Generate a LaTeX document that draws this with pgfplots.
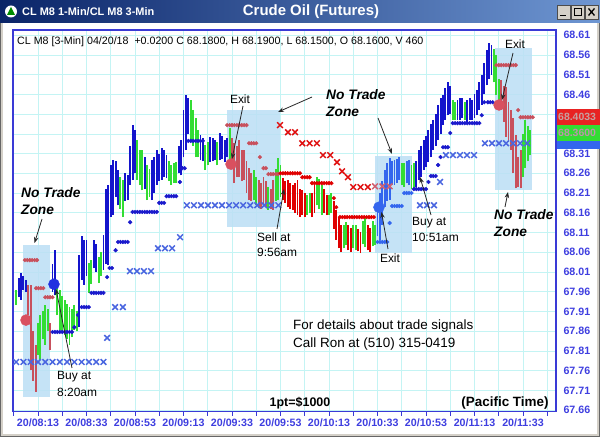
\documentclass[border=0pt]{standalone}
\usepackage{pgfplots}
\pgfplotsset{compat=1.18}
\usepackage{pgfplotstable}
\usepackage{fontspec}
\setmainfont{Liberation Sans}
\usetikzlibrary{arrows.meta}
\definecolor{barblue}{HTML}{1414CC}
\definecolor{lightbarblue}{HTML}{3366EE}
\definecolor{bargreen}{HTML}{33DD33}
\definecolor{barred}{HTML}{E00000}
\definecolor{barpink}{HTML}{C8505C}
\definecolor{dotblue}{HTML}{1A1ACC}
\definecolor{xblue}{HTML}{4A66E0}
\definecolor{xred}{HTML}{E01010}
\definecolor{xpink}{HTML}{D06070}
\definecolor{zonefill}{HTML}{BCDFF5}
\definecolor{gridcyan}{HTML}{C4F4F4}
\definecolor{axisblue}{HTML}{3A3AD6}
\definecolor{labelblue}{HTML}{3E3EE0}
\definecolor{titlenavy}{HTML}{0A2468}
\definecolor{titlelight}{HTML}{6E96D2}
\definecolor{framegray}{HTML}{D4D0C8}
\definecolor{bigpink}{HTML}{D9505F}
\definecolor{bigblue}{HTML}{2030E0}
\definecolor{tagred}{HTML}{E82222}
\definecolor{taggreen}{HTML}{33DD33}
\definecolor{tagblue}{HTML}{3366EE}
\newcommand\an{\fontsize{12}{14}\selectfont}
\newcommand\nt{\fontsize{13.8}{16}\selectfont\bfseries\itshape}

\pgfplotstableread{
m lo hi
5 67.946 67.995
6 67.939 68.007
7 67.965 68.000
8 67.959 67.989
19 67.960 68.030
20 67.951 68.065
30 67.870 68.053
31 67.990 68.100
32 67.977 68.091
33 68.000 68.090
36 68.020 68.091
37 68.010 68.080
40 68.015 68.103
41 68.030 68.220
42 68.027 68.230
43 68.150 68.280
44 68.154 68.293
45 68.200 68.290
46 68.179 68.268
49 68.190 68.260
50 68.192 68.255
51 68.230 68.330
52 68.243 68.382
53 68.260 68.370
57 68.220 68.300
60 68.192 68.293
61 68.210 68.300
62 68.230 68.319
63 68.240 68.310
64 68.243 68.324
65 68.250 68.320
66 68.248 68.306
71 68.260 68.330
72 68.255 68.344
73 68.300 68.420
74 68.319 68.458
75 68.360 68.450
80 68.293 68.357
81 68.290 68.350
84 68.288 68.352
85 68.290 68.350
86 68.293 68.344
88 68.293 68.362
89 68.295 68.355
90 68.288 68.344
91 68.300 68.350
169 68.225 68.290
170 68.243 68.319
171 68.250 68.330
172 68.268 68.344
173 68.275 68.355
174 68.288 68.369
175 68.300 68.385
176 68.319 68.395
177 68.330 68.410
178 68.344 68.433
179 68.360 68.450
180 68.382 68.458
181 68.395 68.475
182 68.407 68.491
183 68.410 68.480
186 68.395 68.445
187 68.395 68.450
188 68.400 68.450
190 68.390 68.445
191 68.395 68.450
192 68.395 68.445
193 68.400 68.460
194 68.407 68.471
195 68.420 68.490
196 68.433 68.509
197 68.460 68.540
198 68.483 68.572
199 68.500 68.590
200 68.509 68.585
}\blueT
\pgfplotstableread{
m lo hi
153 68.100 68.180
154 68.091 68.210
155 68.130 68.240
156 68.174 68.268
157 68.190 68.285
158 68.192 68.299
159 68.230 68.290
160 68.230 68.293
161 68.235 68.295
162 68.243 68.301
165 68.235 68.290
166 68.230 68.293
}\lblueT
\pgfplotstableread{
m lo hi
4 67.926 67.964
13 67.800 67.880
14 67.787 67.901
15 67.840 67.910
16 67.825 67.926
17 67.860 67.915
21 67.900 67.990
22 67.863 67.964
23 67.860 67.950
24 67.850 67.939
25 67.840 67.930
26 67.825 67.921
27 67.845 67.915
28 67.863 67.926
29 67.860 67.910
34 67.957 68.032
35 67.980 68.040
38 67.982 68.048
39 68.000 68.060
47 68.170 68.250
48 68.149 68.243
54 68.243 68.344
55 68.230 68.320
56 68.217 68.319
58 68.192 68.281
59 68.200 68.270
67 68.240 68.290
68 68.230 68.281
69 68.235 68.285
70 68.235 68.288
76 68.344 68.445
77 68.330 68.420
78 68.301 68.400
79 68.300 68.370
82 68.268 68.331
83 68.280 68.340
87 68.280 68.340
92 68.293 68.374
102 68.192 68.268
103 68.180 68.250
108 68.167 68.225
111 68.190 68.270
112 68.192 68.299
113 68.200 68.280
124 68.154 68.205
125 68.160 68.210
128 68.179 68.250
129 68.170 68.245
130 68.154 68.230
133 68.155 68.205
134 68.159 68.210
139 68.070 68.130
140 68.078 68.136
143 68.070 68.130
144 68.065 68.129
147 68.080 68.140
148 68.073 68.149
151 68.075 68.140
152 68.078 68.129
163 68.230 68.285
164 68.225 68.286
167 68.220 68.280
168 68.217 68.286
184 68.395 68.445
185 68.395 68.440
189 68.395 68.440
201 68.490 68.575
202 68.458 68.559
203 68.430 68.500
213 68.250 68.360
214 68.273 68.395
215 68.290 68.380
216 68.306 68.369
}\greenT
\pgfplotstableread{
m lo hi
114 68.192 68.248
115 68.185 68.240
116 68.174 68.243
117 68.170 68.235
118 68.167 68.230
119 68.160 68.235
120 68.154 68.243
121 68.150 68.220
122 68.154 68.217
123 68.150 68.210
126 68.149 68.210
127 68.160 68.230
131 68.160 68.220
132 68.154 68.205
135 68.120 68.190
136 68.091 68.167
137 68.070 68.150
138 68.060 68.129
141 68.065 68.130
142 68.060 68.121
145 68.062 68.120
146 68.058 68.111
149 68.065 68.130
150 68.060 68.121
}\redT
\pgfplotstableread{
m lo hi
9 67.900 67.977
10 67.761 67.977
11 67.735 67.860
12 67.706 67.825
18 67.812 67.880
93 68.270 68.350
94 68.235 68.336
95 68.250 68.330
96 68.250 68.344
97 68.240 68.320
98 68.243 68.319
99 68.210 68.290
100 68.192 68.273
101 68.190 68.260
104 68.172 68.243
105 68.170 68.235
106 68.179 68.250
107 68.175 68.240
109 68.170 68.220
110 68.167 68.243
204 68.420 68.496
205 68.390 68.480
206 68.352 68.478
207 68.340 68.440
208 68.319 68.420
209 68.260 68.400
210 68.222 68.357
211 68.225 68.300
212 68.222 68.319
}\pinkT

\begin{document}
\begin{tikzpicture}
\useasboundingbox (0,0) rectangle (600bp,437bp);
\begin{scope}[x=1bp,y=-1bp,yshift=437bp,every node/.style={inner sep=0pt}]
  \fill[white] (0,0) rectangle (600,437);
  \shade[left color=titlenavy, right color=titlelight] (0,0) rectangle (600,23);
  \draw[framegray, line width=3bp] (1.5,23) -- (1.5,435.5) -- (598.5,435.5) -- (598.5,23);
  \draw[black!60, line width=0.8bp] (0.4,23) -- (0.4,436.6) -- (599.6,436.6) -- (599.6,23);
  \fill[white] (11,11.5) circle (6);
  \fill[green!55!black] (11,7) -- (7,15) -- (15,15) -- cycle;
  \node[text=white, anchor=west, font=\fontsize{11}{13}\selectfont\bfseries] at (22,11.5) {CL M8 1-Min/CL M8 3-Min};
  \node[text=white, font=\fontsize{15}{17}\selectfont\bfseries] at (311,11.5) {Crude Oil (Futures)};
  \foreach \bx in {557,571,585} {\fill[framegray] (\bx,5) rectangle ++(13,14); \draw[black!70, line width=0.6bp] (\bx,5) rectangle ++(13,14);}
  \draw[black, line width=1.5bp] (560,15.5) -- (566,15.5);
  \draw[black, line width=0.8bp] (574,8) rectangle (581,15.5);
  \draw[black, line width=1.6bp] (574,8.4) -- (581,8.4);
  \draw[black, line width=1.3bp] (588.5,8.5) -- (594.5,15.5) (588.5,15.5) -- (594.5,8.5);
\end{scope}

\begin{axis}[
  at={(13bp,25.3bp)}, anchor=south west,
  scale only axis, width=543bp, height=381.7bp,
  xmin=2.7, xmax=226.6, ymin=67.656, ymax=68.623,
  axis line style={draw=axisblue, line width=1.2bp},
  xtick={13,33,...,213},
  xticklabels={20/08:13,20/08:33,20/08:53,20/09:13,20/09:33,20/09:53,20/10:13,20/10:33,20/10:53,20/11:13,20/11:33},
  minor xtick={3,23,...,223},
  ytick={67.66,67.71,67.76,67.81,67.86,67.91,67.96,68.01,68.06,68.11,68.16,68.21,68.26,68.31,68.36,68.41,68.46,68.51,68.56,68.61},
  yticklabels={67.66,67.71,67.76,67.81,67.86,67.91,67.96,68.01,68.06,68.11,68.16,68.21,68.26,68.31,{},{},68.46,68.51,68.56,68.61},
  yticklabel pos=right, ytick pos=right, xtick pos=bottom,
  tick align=outside,
  major tick length=4bp, minor tick length=4bp,
  xtick style={draw=axisblue, line width=0.8bp},
  minor tick style={draw=axisblue, line width=0.8bp},
  ytick style={draw=none},
  grid=both,
  major grid style={draw=gridcyan, line width=0.6bp},
  minor grid style={draw=gridcyan, line width=0.6bp},
  tick label style={font=\fontsize{10.7}{12}\selectfont\bfseries, text=labelblue},
]
% no trade zones
\addplot[fill=zonefill, draw=none, fill opacity=0.85] coordinates {(6.8,67.693) (17.9,67.693) (17.9,68.078) (6.8,68.078)};
\addplot[fill=zonefill, draw=none, fill opacity=0.85] coordinates {(90.9,68.124) (112.8,68.124) (112.8,68.420) (90.9,68.420)};
\addplot[fill=zonefill, draw=none, fill opacity=0.85] coordinates {(152,68.058) (167.2,68.058) (167.2,68.304) (152,68.304)};
\addplot[fill=zonefill, draw=none, fill opacity=0.85] coordinates {(201.5,68.217) (216.7,68.217) (216.7,68.577) (201.5,68.577)};
% blue X stops
\addplot[only marks, mark=x, mark size=4bp, xblue, mark options={line width=1.5bp}] coordinates {
(4,67.782)(7,67.782)(10,67.782)(13,67.782)(16,67.782)(19,67.782)(22,67.782)(25,67.782)(28,67.782)(31,67.782)(34,67.782)(37,67.782)(40,67.782)(41.5,67.843)(44.8,67.921)(48,67.921)(50.9,68.012)(53.8,68.012)(56.7,68.012)(59.6,68.012)(62.5,68.070)(65.4,68.070)(68.3,68.070)(71.6,68.098)(74.4,68.179)(77.3,68.179)(80.2,68.179)(83.1,68.179)(86,68.179)(88.9,68.179)(91.8,68.179)(94.7,68.179)(97.6,68.179)(100.5,68.179)(103.4,68.179)(106.3,68.179)(109.2,68.179)(112.1,68.179)(170.5,68.179)(173.4,68.179)(176.3,68.179)(178.8,68.238)(181.2,68.306)(184.1,68.306)(187,68.306)(189.9,68.306)(192.8,68.306)(197.3,68.336)(200.2,68.336)(203.1,68.336)(206,68.336)(208.9,68.336)(211.8,68.336)(214.7,68.336)};
% red X stops
\addplot[only marks, mark=x, mark size=4bp, xred, mark options={line width=1.5bp}] coordinates {
(112.8,68.382)(116.1,68.364)(119,68.364)(122,68.336)(125,68.336)(128,68.336)(130.5,68.306)(133.5,68.306)(136.3,68.288)(138.4,68.265)(140.8,68.250)(143,68.225)(146,68.225)(149,68.225)};
\addplot[only marks, mark=x, mark size=4bp, xpink, mark options={line width=1.5bp}] coordinates {(152,68.227)(155,68.227)(158,68.227)};
% price bars
\addplot[barblue, line width=1.9bp, quiver={u=0, v=\thisrow{hi}-\thisrow{lo}}] table[x=m, y=lo] {\blueT};
\addplot[lightbarblue, line width=1.9bp, quiver={u=0, v=\thisrow{hi}-\thisrow{lo}}] table[x=m, y=lo] {\lblueT};
\addplot[bargreen, line width=1.9bp, quiver={u=0, v=\thisrow{hi}-\thisrow{lo}}] table[x=m, y=lo] {\greenT};
\addplot[barred, line width=1.9bp, quiver={u=0, v=\thisrow{hi}-\thisrow{lo}}] table[x=m, y=lo] {\redT};
\addplot[barpink, line width=1.9bp, quiver={u=0, v=\thisrow{hi}-\thisrow{lo}}] table[x=m, y=lo] {\pinkT};
% trailing stop dots
\addplot[only marks, mark=*, mark size=1.9bp, dotblue] coordinates {
(19,67.858)(20,67.858)(21,67.858)(22,67.858)(23,67.858)(24,67.858)(25,67.858)(26,67.858)(27,67.858)(28,67.870)(29.5,67.901)(31,67.921)(32,67.921)(33,67.921)(34,67.921)(35,67.957)(36,67.957)(37,67.957)(38,67.957)(39,67.957)(40,67.957)(41.5,67.997)(42.5,68.020)(43.5,68.020)(45,68.065)(46,68.086)(47,68.086)(48,68.086)(49,68.086)(50,68.086)(51,68.136)(52,68.162)(53,68.162)(54,68.162)(55,68.162)(56,68.162)(57,68.162)(58,68.162)(59,68.162)(60,68.162)(61,68.162)(62,68.162)(63,68.185)(64,68.185)(65,68.185)(66,68.202)(67,68.202)(68,68.202)(69,68.202)(70,68.202)(71.5,68.238)(72.5,68.273)(73.5,68.273)(75,68.342)(76,68.342)(77,68.342)(78,68.342)(79,68.342)(80,68.342)(81,68.342)
(168,68.220)(169,68.220)(170,68.220)(171,68.220)(172,68.220)(173,68.220)(174,68.238)(175,68.253)(176,68.253)(177,68.253)(178,68.281)(179,68.301)(180,68.326)(181,68.326)(182,68.326)(183,68.362)(184,68.387)(185,68.387)(186,68.387)(187,68.387)(188,68.387)(189,68.387)(190,68.387)(191,68.387)(192,68.387)(193,68.387)(194,68.387)(195,68.387)(196,68.407)(197,68.440)(198.5,68.440)(199.5,68.440)(200.5,68.440)};
\addplot[only marks, mark=*, mark size=1.9bp, lightbarblue] coordinates {
(153,68.086)(154,68.086)(155,68.086)(156,68.086)(157,68.086)(158,68.134)(159,68.177)(160,68.177)(161,68.177)(162,68.177)(163,68.177)(164,68.210)(165,68.210)(166,68.210)(167,68.210)};
\addplot[only marks, mark=*, mark size=1.9bp, barpink] coordinates {
(7.6,68.040)(8.6,68.040)(9.6,68.040)(10.6,68.040)(11.6,68.040)(12.6,68.040)(12.2,67.969)(13.2,67.969)(14.2,67.969)(15.2,67.969)(16,67.946)(17,67.946)(18,67.946)(19,67.946)
(91,68.382)(92,68.382)(93,68.382)(94,68.382)(95,68.382)(96,68.382)(97,68.382)(98,68.382)(99,68.382)(100,68.336)(101,68.336)(102,68.336)(103,68.336)(104.5,68.301)(106,68.273)(107,68.273)(108,68.258)(109,68.258)(110,68.258)(111,68.258)(112,68.258)
(202,68.534)(203,68.534)(204,68.534)(205,68.534)(206,68.534)(207,68.534)(208,68.534)(209,68.534)(210,68.534)(211,68.420)(212,68.402)(213,68.402)(214,68.402)(215,68.402)(216,68.402)(217,68.402)};
\addplot[only marks, mark=*, mark size=1.9bp, barred] coordinates {
(113,68.260)(114,68.260)(115,68.260)(116,68.260)(117,68.260)(118,68.260)(119,68.260)(120,68.260)(121,68.260)(122,68.250)(123,68.250)(124,68.250)(125,68.250)(126,68.235)(127,68.235)(128,68.235)(129,68.235)(130,68.235)(131,68.235)(132,68.235)(133,68.235)(134,68.235)(135,68.197)(136,68.174)(137.5,68.149)(138.5,68.149)(139.5,68.149)(140.5,68.149)(141.5,68.149)(142.5,68.149)(143.5,68.149)(144.5,68.149)(145.5,68.149)(146.5,68.149)(147.5,68.149)(148.5,68.149)(149.5,68.149)(150.5,68.149)(151.5,68.149)};
% entry / exit markers
\addplot[only marks, mark=*, mark size=5.5bp, bigpink] coordinates {(8.05,67.888)(92.6,68.283)(203.1,68.433)};
\addplot[only marks, mark=*, mark size=5.5bp, bigblue] coordinates {(19.6,67.979)};
\addplot[only marks, mark=*, mark size=5.5bp, lightbarblue] coordinates {(153.6,68.174)};
\end{axis}

\begin{scope}[x=1bp,y=-1bp,yshift=437bp,every node/.style={inner sep=0pt},
  arr/.style={-{Stealth[length=6bp,width=4.5bp]}, line width=0.8bp, black!85}]
  \node[anchor=west, font=\fontsize{10.7}{12}\selectfont] at (17,42) {CL M8 [3-Min] 04/20/18\ \ +0.0200 C 68.1800, H 68.1900, L 68.1500, O 68.1600, V 460};
  % price tags
  \fill[tagblue] (556.6,140) rectangle (600,149);
  \fill[taggreen] (556.6,125) rectangle (600,141);
  \fill[tagred] (556.6,109) rectangle (600,125);
  \node[anchor=west, text=red!25!gray!60, font=\fontsize{10.5}{12}\selectfont\bfseries] at (558,117) {68.4033};
  \node[anchor=west, text=magenta!30!gray!80, font=\fontsize{10.5}{12}\selectfont\bfseries] at (558,133) {68.3600};
  % annotations
  \node[anchor=west, font=\nt] at (21,193) {No Trade};
  \node[anchor=west, font=\nt] at (21,210) {Zone};
  \draw[arr] (42,219) -- (34.5,243);
  \node[anchor=west, font=\an] at (57,377) {Buy at};
  \node[anchor=west, font=\an] at (57,392) {8:20am};
  \draw[arr] (72,368) -- (56,289);
  \node[font=\an] at (240,99) {Exit};
  \draw[arr] (243,106) -- (232,159);
  \node[anchor=west, font=\an] at (257,237) {Sell at};
  \node[anchor=west, font=\an] at (257,252) {9:56am};
  \draw[arr] (277,229) -- (284,189);
  \node[anchor=west, font=\nt] at (326,95) {No Trade};
  \node[anchor=west, font=\nt] at (326,112) {Zone};
  \draw[arr] (312,97) -- (278,112);
  \draw[arr] (378,118) -- (392,154);
  \node[font=\an] at (390,258) {Exit};
  \draw[arr] (388,249) -- (381.5,212);
  \node[anchor=west, font=\an] at (412,223) {Buy at};
  \node[anchor=west, font=\an] at (412,237) {10:51am};
  \draw[arr] (431,215) -- (420,177);
  \node[font=\an] at (515,44) {Exit};
  \draw[arr] (513,53) -- (502,100);
  \node[anchor=west, font=\nt] at (494,215) {No Trade};
  \node[anchor=west, font=\nt] at (494,232) {Zone};
  \draw[arr] (505,207) -- (508,192);
  \node[anchor=west, font=\fontsize{13.5}{15}\selectfont] at (293,326) {For details about trade signals};
  \node[anchor=west, font=\fontsize{13.5}{15}\selectfont] at (293,344) {Call Ron at (510) 315-0419};
  \node[font=\fontsize{12.5}{14}\selectfont\bfseries] at (300,403) {1pt=\$1000};
  \node[font=\fontsize{13.5}{15}\selectfont\bfseries] at (505,403) {(Pacific Time)};
\end{scope}
\end{tikzpicture}
\end{document}
